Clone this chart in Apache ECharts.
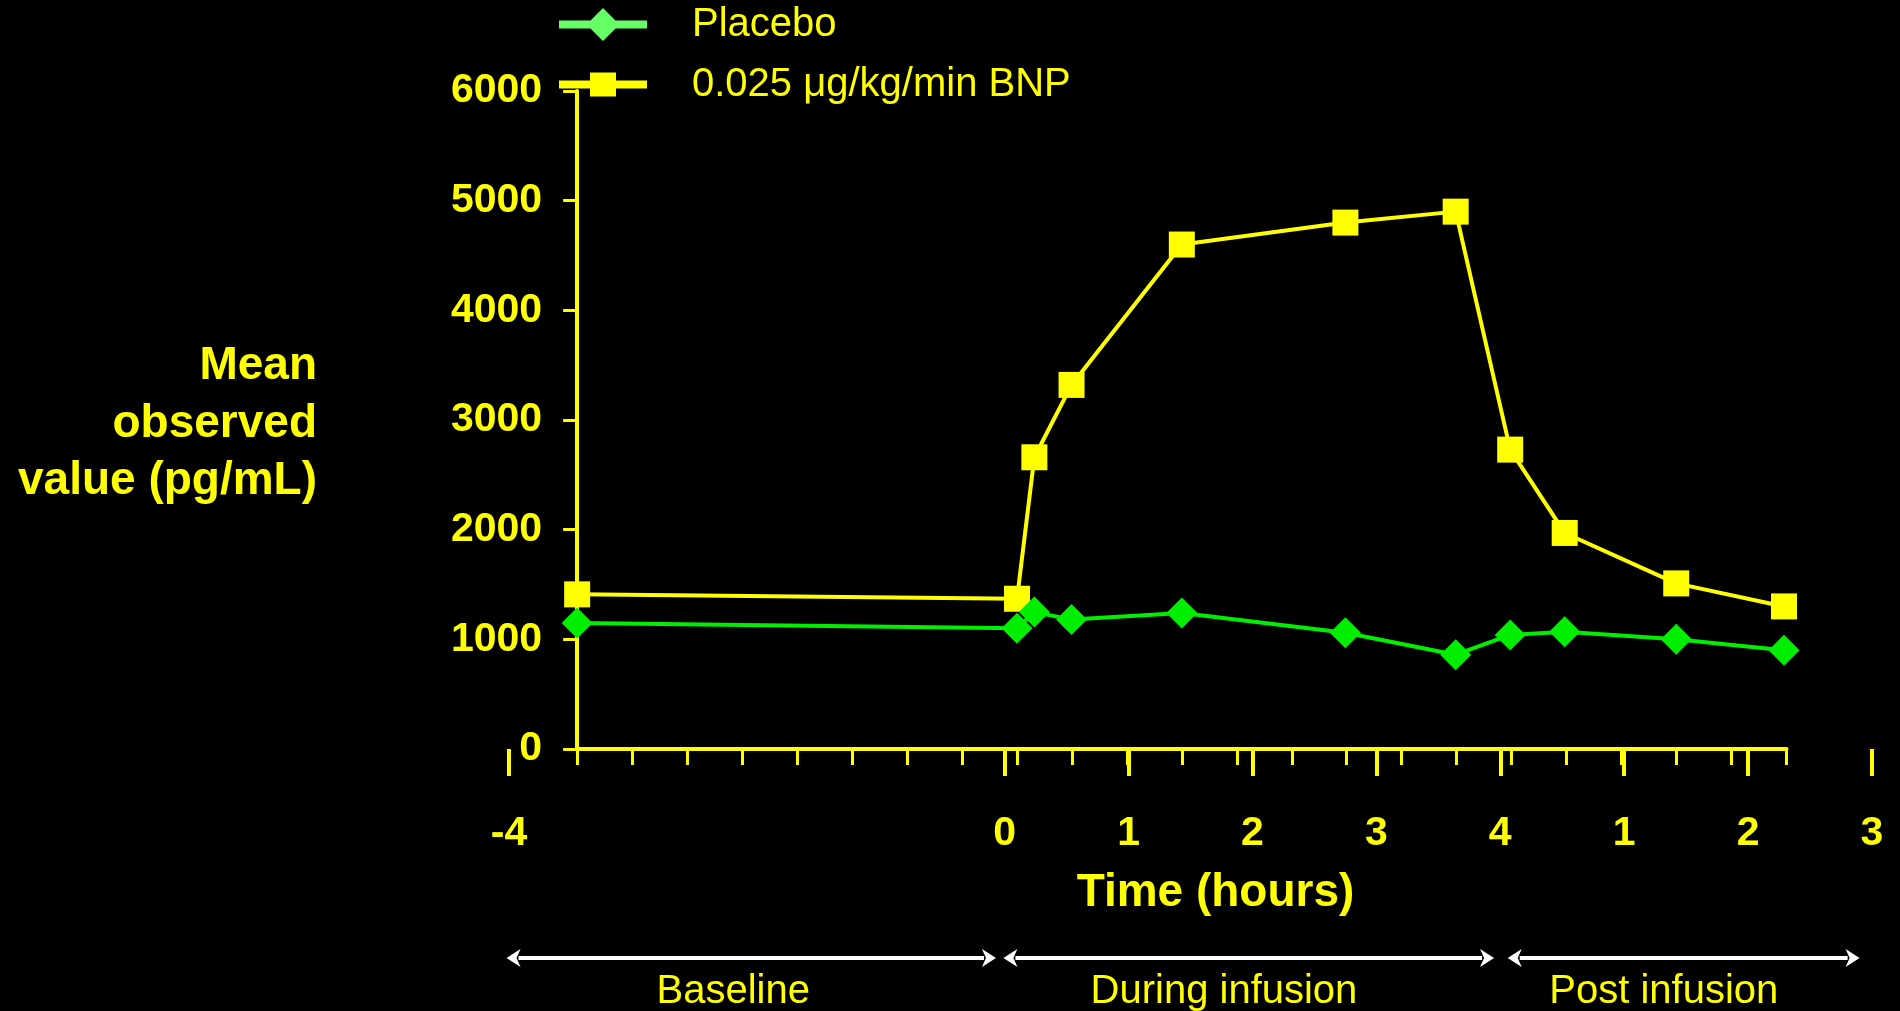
<!DOCTYPE html>
<html><head><meta charset="utf-8">
<style>html,body{margin:0;padding:0;background:#000;}#c{width:1900px;height:1011px;}</style>
<script src="https://cdn.jsdelivr.net/npm/echarts@6/dist/echarts.min.js"></script>
</head><body><div id="c"></div>
<script>
// ---- data ----
const timeHours = [-3.45, 0.1, 0.24, 0.54, 1.43, 2.75, 3.64, 4.08, 4.52, 5.42, 6.29];
const placebo   = [1150, 1100, 1250, 1180, 1240, 1060, 860, 1040, 1070, 1000, 900];
const bnp       = [1410, 1370, 2660, 3320, 4600, 4800, 4900, 2730, 1970, 1510, 1300];
const seriesNames = ['Placebo', '0.025 \u03BCg/kg/min BNP'];
const xTickValues = [-4, 0, 1, 2, 3, 4, 5, 6, 7];
const xTickLabels = ['-4', '0', '1', '2', '3', '4', '1', '2', '3'];
const minorTickCount = 22;
const phases = [
  {name: 'Baseline', from: -4.02, to: -0.07, labelAt: -2.19},
  {name: 'During infusion', from: -0.01, to: 3.95, labelAt: 1.77},
  {name: 'Post infusion', from: 4.06, to: 6.9, labelAt: 5.32}
];
const yTitle = 'Mean\nobserved\nvalue (pg/mL)';
const xTitle = 'Time (hours)';

// ---- layout ----
const YEL = '#ffff00', GRN = '#00ee00', FONT = '"Liberation Sans", Arial, sans-serif';
const X_MIN = -4, X_MAX = 7, AXIS_START = -3.45, AXIS_END = 6.31;
const G_LEFT = 509, G_W = 1363, G_TOP = 91, G_H = 658;
const hx = h => G_LEFT + (h - X_MIN) / (X_MAX - X_MIN) * G_W;
const A_LEFT = hx(AXIS_START), A_W = hx(AXIS_END) - hx(AXIS_START);
// legend icons (88x41 box): thick line with marker, corner points fix the bounding box
const ICON_DIAMOND = 'path://M0 0 L0.01 0 Z M0 16.5 H31.5 L44 4 L56.5 16.5 H88 V24.5 H56.5 L44 37 L31.5 24.5 H0 Z M88 41 L87.99 41 Z';
const ICON_SQUARE = 'path://M0 0 L0.01 0 Z M0 16.5 H31 V8.5 H57 V16.5 H88 V24.5 H57 V32.5 H31 V24.5 H0 Z M88 41 L87.99 41 Z';

const chart = echarts.init(document.getElementById('c'));
const opt = {
  backgroundColor: '#000',
  animation: false,
  grid: [
    {left: G_LEFT, top: G_TOP, width: G_W, height: G_H},
    {left: A_LEFT, top: G_TOP, width: A_W, height: G_H}
  ],
  legend: {
    orient: 'vertical', left: 559, top: 4, padding: 0,
    itemWidth: 88, itemHeight: 41, itemGap: 19, symbolKeepAspect: true,
    textStyle: {color: YEL, fontSize: 40, fontFamily: FONT, padding: [0, 0, 0, 40]},
    data: [
      {name: seriesNames[0], icon: ICON_DIAMOND, itemStyle: {color: '#66ff66'}},
      {name: seriesNames[1], icon: ICON_SQUARE, itemStyle: {color: YEL}}
    ]
  },
  xAxis: [
    {
      gridIndex: 0, type: 'value', min: X_MIN, max: X_MAX,
      axisLine: {show: false},
      splitLine: {show: false},
      axisTick: {show: true, customValues: xTickValues, length: 27, lineStyle: {color: YEL, width: 4}},
      axisLabel: {
        show: true, customValues: xTickValues, margin: 64,
        color: YEL, fontSize: 41, fontWeight: 'bold', fontFamily: FONT,
        formatter: v => { const i = xTickValues.indexOf(v); return i >= 0 ? xTickLabels[i] : ''; }
      }
    },
    {
      gridIndex: 1, type: 'value', min: 0, max: minorTickCount, interval: 1,
      axisLine: {show: true, lineStyle: {color: YEL, width: 4}},
      axisTick: {show: true, length: 16, lineStyle: {color: YEL, width: 3}},
      axisLabel: {show: false},
      splitLine: {show: false}
    }
  ],
  yAxis: [
    {gridIndex: 0, type: 'value', min: 0, max: 6000, show: false, splitLine: {show: false}},
    {
      gridIndex: 1, type: 'value', min: 0, max: 6000, interval: 1000,
      axisLine: {show: true, lineStyle: {color: YEL, width: 4}},
      axisTick: {show: true, length: 14, lineStyle: {color: YEL, width: 3}},
      axisLabel: {color: YEL, fontSize: 41, fontWeight: 'bold', fontFamily: FONT, margin: 35,
        formatter: v => String(v)},
      splitLine: {show: false}
    }
  ],
  series: [
    {
      name: seriesNames[1], type: 'line', xAxisIndex: 0, yAxisIndex: 0,
      data: timeHours.map((t, i) => [t, bnp[i]]),
      symbol: 'rect', symbolSize: 26, color: YEL,
      itemStyle: {color: YEL}, lineStyle: {color: YEL, width: 4}, z: 3
    },
    {
      name: seriesNames[0], type: 'line', xAxisIndex: 0, yAxisIndex: 0,
      data: timeHours.map((t, i) => [t, placebo[i]]),
      symbol: 'diamond', symbolSize: [31, 31], color: GRN,
      itemStyle: {color: GRN}, lineStyle: {color: GRN, width: 4}, z: 4
    }
  ]
};
chart.setOption(opt);

// ---- annotations built from the axis scale ----
const graphics = [
  {type: 'text', x: 317, y: 424, style: {text: yTitle, fill: YEL, font: 'bold 46px ' + FONT,
    align: 'right', verticalAlign: 'middle', lineHeight: 57.5}},
];
const px = v => chart.convertToPixel({xAxisIndex: 0}, v);
const ARROW_Y = 958, HEAD = 14, HALF = 9;
const xTitleX = (px(X_MIN) + px(X_MAX)) / 2 + 25;
graphics.push({type: 'text', x: xTitleX, y: 893, style: {text: xTitle, fill: YEL,
  font: 'bold 46px ' + FONT, align: 'center', verticalAlign: 'middle'}});
phases.forEach(p => {
  const a = px(p.from), b = px(p.to);
  graphics.push({type: 'line', shape: {x1: a + HEAD - 2, y1: ARROW_Y, x2: b - HEAD + 2, y2: ARROW_Y},
    style: {stroke: '#fff', lineWidth: 4}});
  graphics.push({type: 'polygon', shape: {points: [[a, ARROW_Y], [a + HEAD, ARROW_Y - HALF], [a + HEAD - 4, ARROW_Y], [a + HEAD, ARROW_Y + HALF]]},
    style: {fill: '#fff'}});
  graphics.push({type: 'polygon', shape: {points: [[b, ARROW_Y], [b - HEAD, ARROW_Y - HALF], [b - HEAD + 4, ARROW_Y], [b - HEAD, ARROW_Y + HALF]]},
    style: {fill: '#fff'}});
  graphics.push({type: 'text', x: px(p.labelAt), y: 992, style: {text: p.name, fill: YEL,
    font: '40px ' + FONT, align: 'center', verticalAlign: 'middle'}});
});
chart.setOption({graphic: graphics});
</script>
</body></html>
